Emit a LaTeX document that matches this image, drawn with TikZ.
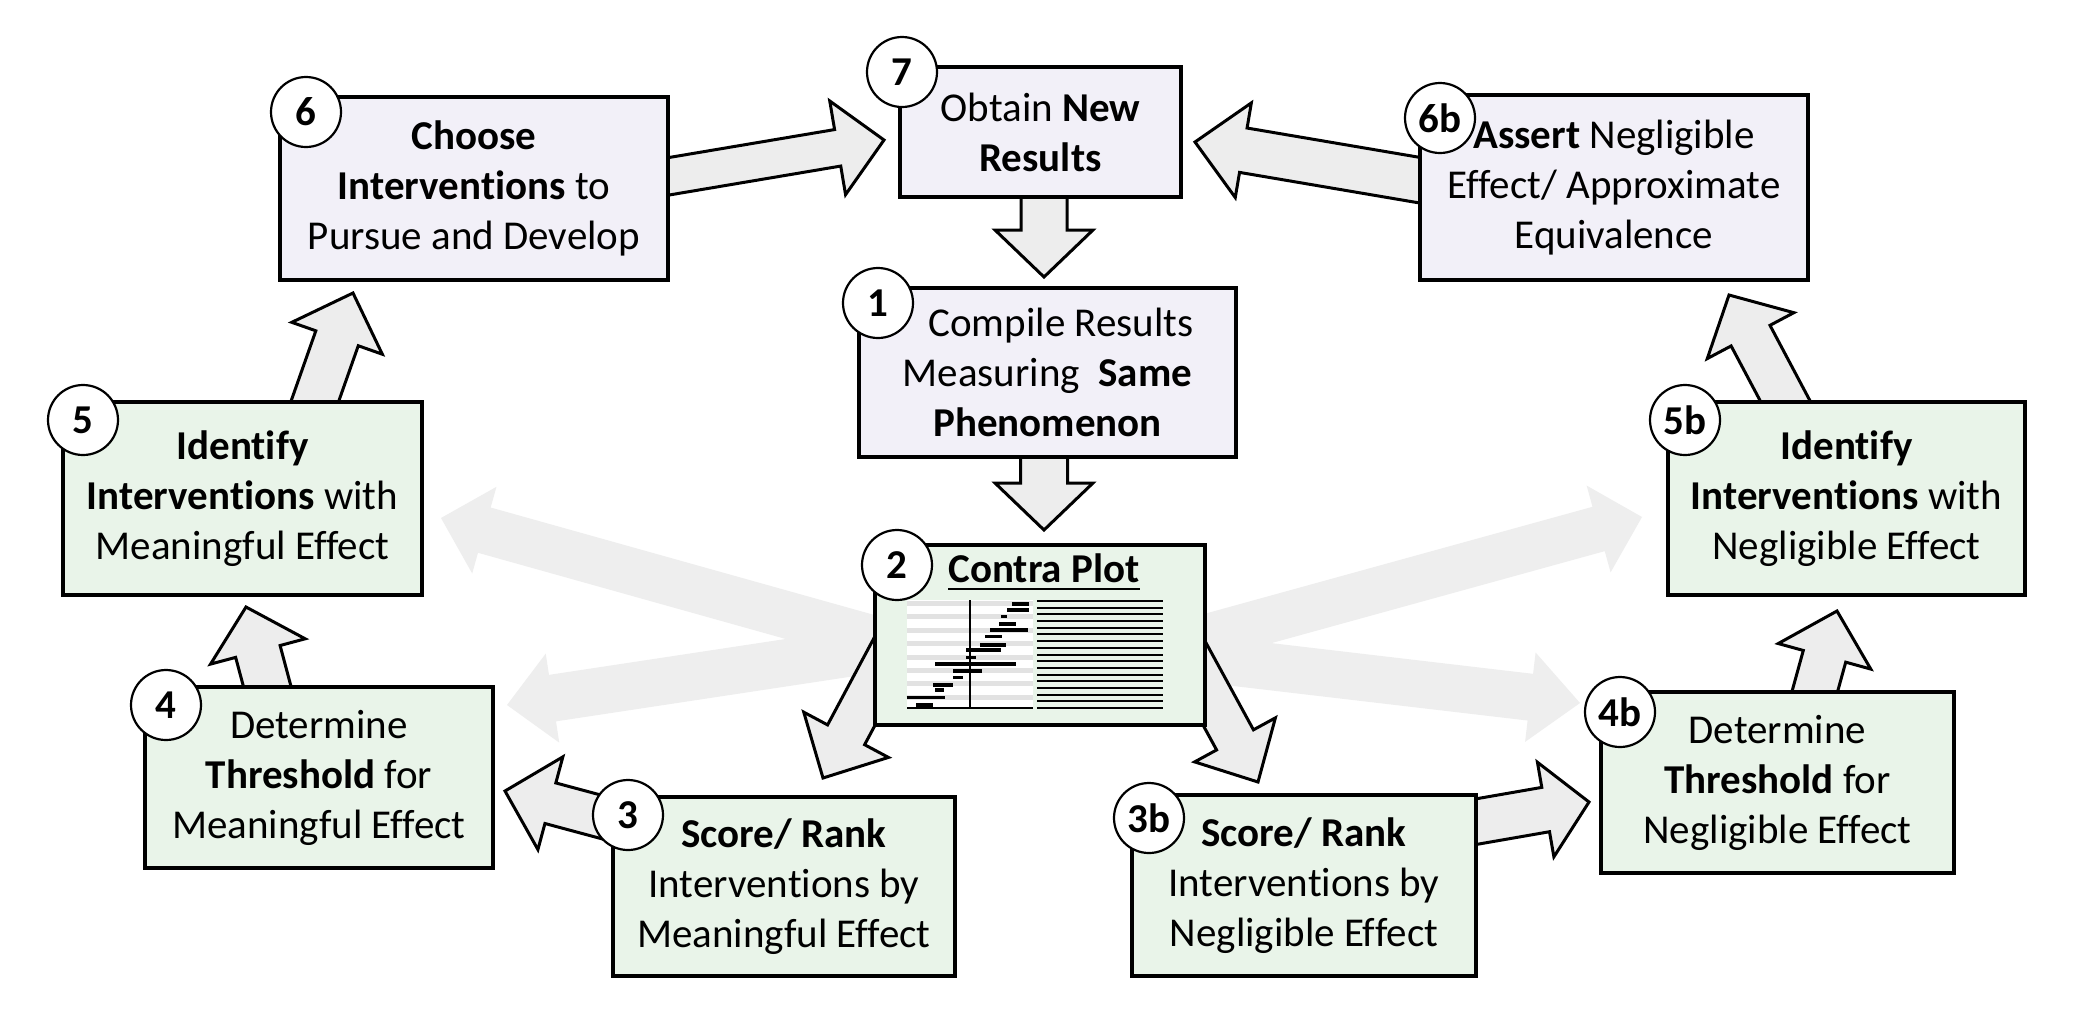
\documentclass[tikz,border=0pt]{standalone}
\usepackage{fontspec}
\setmainfont{Carlito}[RawFeature={-liga;-clig;-calt;-dlig}]
\usetikzlibrary{calc}
\definecolor{boxpurple}{HTML}{F2F0F8}
\definecolor{boxgreen}{HTML}{E9F4E9}
\definecolor{arrfill}{HTML}{EDEDED}
\definecolor{palefill}{HTML}{EEEEEE}
\definecolor{bandgray}{HTML}{E2E2E2}
\newcommand\blockarrow[6]{% style, tail, tip, shaft half, head half, head length
  \coordinate (tmpc) at ($(#3)!#6!(#2)$);
  \path[#1] ($(#2)!#4!90:(#3)$) -- ($(tmpc)!#4!90:(#3)$) -- ($(tmpc)!#5!90:(#3)$) -- (#3)
    -- ($(tmpc)!#5!-90:(#3)$) -- ($(tmpc)!#4!-90:(#3)$) -- ($(#2)!#4!-90:(#3)$) -- cycle;
}
\tikzset{
  boxp/.style={draw, line width=3.5pt, fill=boxpurple, inner sep=0pt, align=center,
    font=\fontsize{41}{50}\selectfont},
  boxg/.style={boxp, fill=boxgreen},
  numc/.style={circle, draw, line width=2.2pt, fill=white, minimum size=70pt, inner sep=0pt,
    font=\fontsize{41}{41}\selectfont\bfseries},
  barr/.style={draw, line width=3pt, fill=arrfill, line join=miter},
  parr/.style={fill=palefill},
  plotbar/.style={line width=3.3pt},
  plotline/.style={line width=2pt},
}
\begin{document}
\begin{tikzpicture}[x=1pt,y=-1pt]
\fill[white] (0,0) rectangle (2081,1021);
\useasboundingbox (0,0) rectangle (2081,1021);

% ---------- arrow end points ----------
\coordinate (p5s) at (980,669);   \coordinate (p5t) at (441,518);
\coordinate (p4s) at (982,633);   \coordinate (p4t) at (507,705);
\coordinate (p5bs) at (1102,666); \coordinate (p5bt) at (1642,517);
\coordinate (p4bs) at (1103,647); \coordinate (p4bt) at (1580,703);

\coordinate (a67s) at (638,181.5);  \coordinate (a67t) at (884,140);
\coordinate (a6b7s) at (1448,185);  \coordinate (a6b7t) at (1195,142);
\coordinate (a71s) at (1044,180);   \coordinate (a71t) at (1044,277);
\coordinate (a12s) at (1044,440);   \coordinate (a12t) at (1044,530);
\coordinate (a23s) at (893.7,645.7); \coordinate (a23t) at (823,778);
\coordinate (a23bs) at (1186,650);  \coordinate (a23bt) at (1258,782);
\coordinate (a34s) at (650,830);    \coordinate (a34t) at (505,791);
\coordinate (a34bs) at (1431,829.5); \coordinate (a34bt) at (1589,802);
\coordinate (a45s) at (277,723);    \coordinate (a45t) at (246,607);
\coordinate (a45bs) at (1805,727);  \coordinate (a45bt) at (1837,611);
\coordinate (a56s) at (306.5,425);  \coordinate (a56t) at (353,293);
\coordinate (a56bs) at (1794.5,418.5); \coordinate (a56bt) at (1729,295);

% ---------- pale arrows from the contra plot ----------
\blockarrow{parr}{p5s}{p5t}{23.5pt}{45pt}{45pt}
\blockarrow{parr}{p4s}{p4t}{23.5pt}{45pt}{46pt}
\blockarrow{parr}{p5bs}{p5bt}{23pt}{45pt}{45pt}
\blockarrow{parr}{p4bs}{p4bt}{23.5pt}{45pt}{50pt}

% ---------- outlined block arrows ----------
\blockarrow{barr}{a67s}{a67t}{18.5pt}{47.5pt}{47pt}
\blockarrow{barr}{a6b7s}{a6b7t}{22.5pt}{48pt}{49pt}
\blockarrow{barr}{a71s}{a71t}{23pt}{49pt}{47pt}
\blockarrow{barr}{a12s}{a12t}{23.5pt}{49pt}{47pt}
\blockarrow{barr}{a23s}{a23t}{21pt}{48pt}{49pt}
\blockarrow{barr}{a23bs}{a23bt}{21pt}{46pt}{48pt}
\blockarrow{barr}{a34s}{a34t}{21pt}{48pt}{47pt}
\blockarrow{barr}{a34bs}{a34bt}{22.5pt}{48pt}{44pt}
\blockarrow{barr}{a45s}{a45t}{23pt}{49pt}{46pt}
\blockarrow{barr}{a45bs}{a45bt}{22pt}{48pt}{47pt}
\blockarrow{barr}{a56s}{a56t}{22.5pt}{48pt}{48pt}
\blockarrow{barr}{a56bs}{a56bt}{22pt}{49pt}{46pt}

% ---------- boxes ----------
\node[boxp, minimum width=281pt, minimum height=130pt] (n7) at (1040.5,132)
  {Obtain \textbf{New}\\\textbf{Results}};
\node[boxp, minimum width=388pt, minimum height=183pt] (n6) at (474,188.5)
  {\textbf{Choose}\\\textbf{Interventions} to\\Pursue and Develop};
\node[boxp, minimum width=388pt, minimum height=185pt] (n6b) at (1614,187.5)
  {\textbf{Assert} Negligible\\Effect/ Approximate\\Equivalence};
\node[boxp, minimum width=377pt, minimum height=169pt] (n1) at (1047.5,372.5)
  {\hspace*{27pt}Compile Results\\Measuring\ \ \textbf{Same}\\\textbf{Phenomenon}};
\node[boxg, minimum width=359pt, minimum height=193pt] (n5) at (242.5,498.5)
  {\textbf{Identify}\\\textbf{Interventions} with\\Meaningful Effect};
\node[boxg, minimum width=357pt, minimum height=193pt] (n5b) at (1846.5,498.5)
  {\textbf{Identify}\\\textbf{Interventions} with\\Negligible Effect};
\node[boxg, minimum width=330pt, minimum height=180pt] (n2) at (1040,635) {};
\node[boxg, minimum width=348pt, minimum height=181pt] (n4) at (319,777.5)
  {Determine\\\textbf{Threshold} for\\Meaningful Effect};
\node[boxg, minimum width=353pt, minimum height=181pt] (n4b) at (1777.5,782.5)
  {Determine\\\textbf{Threshold} for\\Negligible Effect};
\node[boxg, minimum width=342pt, minimum height=179pt] (n3) at (784,886.5)
  {\textbf{Score/ Rank}\\Interventions by\\Meaningful Effect};
\node[boxg, minimum width=344pt, minimum height=181pt] (n3b) at (1304,885.5)
  {\textbf{Score/ Rank}\\Interventions by\\Negligible Effect};

% ---------- contra plot inside box 2 ----------
\node[anchor=base, inner sep=0pt, font=\fontsize{41}{50}\selectfont\bfseries] (title) at (1044,582) {Contra Plot};
\draw[line width=2pt] ($(title.base west)+(0,7)$) -- ($(title.base east)+(0,7)$);
\fill[white] (907,600) rectangle (1033,708);
\foreach \i in {0,...,7}
  \fill[bandgray] (907,{601+13.4*\i}) rectangle (1033,{606+13.4*\i});
\foreach \y/\a/\b in {604/1012/1029, 610/1007/1029, 616.7/1001/1007.3, 624/999/1016,
  630/990/1028.3, 636.7/985/1002.3, 645/980/1005.7, 650/966/1000.7, 657.7/966/975.7,
  664/935/1015.7, 671/953.3/981.7, 677.7/953.3/963.3, 685/933.3/953.3, 690/935/944.3,
  697.7/906.7/945, 705/916/933.3}
  \draw[plotbar] (\a,\y) -- (\b,\y);
\draw[line width=1.5pt] (970,600) -- (970,708);
\draw[line width=1.5pt] (907,708) -- (1033,708);
\foreach \i in {0,...,16}
  \draw[plotline] (1037,{601+6.69*\i}) -- (1163,{601+6.69*\i});

% ---------- number circles ----------
\node[numc] (c7) at (902,72) {7};
\node[numc] (c6) at (306,112) {6};
\node[numc] (c6b) at (1440,118) {6b};
\node[numc] (c1) at (878,303) {1};
\node[numc] (c5) at (83,420) {5};
\node[numc] (c5b) at (1685,420) {5b};
\node[numc] (c2) at (897,565) {2};
\node[numc] (c4) at (166,705) {4};
\node[numc] (c4b) at (1620,712) {4b};
\node[numc] (c3) at (628,815) {3};
\node[numc] (c3b) at (1149,818) {3b};
\end{tikzpicture}
\end{document}
